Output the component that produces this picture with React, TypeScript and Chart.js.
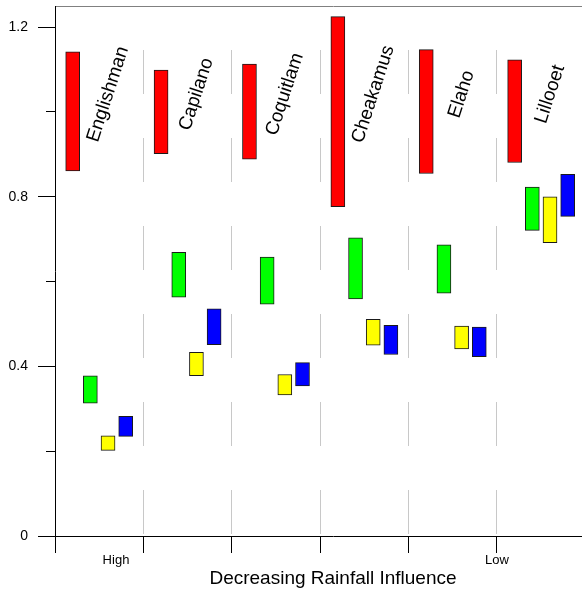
import React, { useEffect, useRef } from 'react';
import { Chart, registerables } from 'chart.js';

Chart.register(...registerables);

// ---- Data ----
const stations = ['Englishman', 'Capilano', 'Coquitlam', 'Cheakamus', 'Elaho', 'Lillooet'];

// floating bar ranges [low, high] per station
const redRange = [[0.861, 1.142], [0.902, 1.099], [0.889, 1.113], [0.777, 1.225], [0.855, 1.147], [0.881, 1.123]];
const greenRange = [[0.313, 0.378], [0.563, 0.669], [0.547, 0.658], [0.559, 0.703], [0.573, 0.687], [0.721, 0.823]];
const yellowRange = [[0.202, 0.236], [0.378, 0.433], [0.333, 0.381], [0.450, 0.511], [0.441, 0.495], [0.692, 0.800]];
const blueRange = [[0.235, 0.282], [0.451, 0.536], [0.354, 0.409], [0.428, 0.497], [0.423, 0.493], [0.754, 0.853]];

const seriesRanges = [redRange, greenRange, yellowRange, blueRange];
const seriesColors = ['#ff0000', '#00ff00', '#ffff00', '#0000ff'];

const yTickValues = [0, 0.2, 0.4, 0.6, 0.8, 1.0, 1.2];
const yTickLabels = ['0', '', '0.4', '', '0.8', '', '1.2'];
const groupBoundaries = [0, 1, 2, 3, 4, 5, 6];
const rangeTickValues = [0.69, 5];
const rangeTickLabels = ['High', 'Low'];

const xTitle = 'Decreasing Rainfall Influence';

// ---- layout constants ----
const X_MAX = 6.29;
const Y_MAX = 1.25;
const SLOT_STEP = 0.2; // bar slot spacing inside a group
const LABEL_SLOT = 0.6;
const LABEL_LEVEL = 1.042;
const FONT = '"Liberation Sans", Arial, Helvetica, sans-serif';

const stationLabelPlugin = {
  id: 'stationLabels',
  afterDatasetsDraw(chart: any) {
    const { ctx, scales } = chart;
    const x = scales.x;
    const y = scales.y;
    ctx.save();
    ctx.font = `19px ${FONT}`;
    ctx.fillStyle = '#000';
    ctx.textAlign = 'center';
    ctx.textBaseline = 'middle';
    stations.forEach((name, i) => {
      const px = x.getPixelForValue(i + LABEL_SLOT);
      const py = y.getPixelForValue(LABEL_LEVEL);
      ctx.save();
      ctx.translate(px, py);
      ctx.rotate((-72 * Math.PI) / 180);
      ctx.fillText(name, 0, 0);
      ctx.restore();
    });
    ctx.restore();
  },
};

const isInt = (v: number) => Math.abs(v - Math.round(v)) < 1e-6;

export default function App() {
  const canvasRef = useRef<HTMLCanvasElement | null>(null);

  useEffect(() => {
    if (!canvasRef.current) return;
    const datasets = seriesRanges.map((ranges, s) => ({
      label: `s${s}`,
      data: ranges.map((r, i) => ({ x: i + SLOT_STEP * (s + 1), y: r })),
      backgroundColor: seriesColors[s],
      borderColor: '#1a1a1a',
      borderWidth: 1,
      borderSkipped: false,
      grouped: false,
      maxBarThickness: 14,
      barPercentage: 1,
      categoryPercentage: 1,
    }));

    const chart = new Chart(canvasRef.current, {
      type: 'bar',
      data: { datasets: datasets as any },
      options: {
        animation: false,
        responsive: false,
        devicePixelRatio: 1,
        layout: { padding: { top: 6, right: 0, bottom: 0, left: 0 } },
        plugins: { legend: { display: false }, tooltip: { enabled: false } },
        scales: {
          x: {
            type: 'linear',
            position: 'bottom',
            min: 0,
            max: X_MAX,
            offset: false,
            afterBuildTicks: (s: any) => {
              const vals = [...groupBoundaries];
              rangeTickValues.forEach((v) => {
                if (!vals.some((g) => Math.abs(g - v) < 1e-6)) vals.push(v);
              });
              vals.sort((a, b) => a - b);
              s.ticks = vals.map((v) => ({ value: v }));
            },
            afterFit: (s: any) => {
              s.height = 56;
              s.paddingLeft = 0;
              s.paddingRight = 0;
            },
            ticks: {
              autoSkip: false,
              maxRotation: 0,
              minRotation: 0,
              padding: 0,
              color: '#000',
              font: { size: 13, family: FONT },
              callback: (v: any) => {
                const idx = rangeTickValues.findIndex((t) => Math.abs(t - Number(v)) < 1e-6);
                return idx >= 0 ? rangeTickLabels[idx] : '';
              },
            },
            grid: {
              offset: false,
              drawOnChartArea: true,
              lineWidth: 1,
              tickLength: 17,
              color: (c: any) =>
                c.tick && isInt(c.tick.value) && c.tick.value > 0 ? '#c8c8c8' : 'rgba(0,0,0,0)',
              tickColor: (c: any) => (c.tick && isInt(c.tick.value) ? '#000' : 'rgba(0,0,0,0)'),
            },
            border: { display: true, color: '#000', width: 1, dash: [44, 44], dashOffset: 44 },
            title: {
              display: true,
              text: xTitle,
              color: '#000',
              font: { size: 19, family: FONT },
              padding: { top: 0, bottom: 2 },
            },
          } as any,
          xTop: {
            type: 'linear',
            position: 'top',
            min: 0,
            max: X_MAX,
            offset: false,
            ticks: { display: false },
            grid: { display: false, drawTicks: false, offset: false },
            border: { display: true, color: '#808080', width: 1 },
            afterFit: (s: any) => {
              s.height = 0;
              s.paddingLeft = 0;
              s.paddingRight = 0;
            },
          } as any,
          y: {
            type: 'linear',
            position: 'left',
            min: 0,
            max: Y_MAX,
            afterBuildTicks: (s: any) => {
              s.ticks = yTickValues.map((v) => ({ value: v }));
            },
            afterFit: (s: any) => {
              s.width = 55;
              s.paddingTop = 0;
              s.paddingBottom = 0;
            },
            ticks: {
              padding: 10,
              color: '#000',
              font: { size: 14, family: FONT },
              callback: (_v: any, i: number) => yTickLabels[i],
            },
            grid: {
              drawOnChartArea: false,
              tickLength: 17,
              tickColor: '#000',
              tickBorderDash: (c: any) => {
                const k = Math.round((c.tick ? c.tick.value : 0) * 10);
                return k % 4 !== 0 ? [0, 8, 9, 100] : [];
              },
            },
            border: { display: true, color: '#000', width: 1 },
          } as any,
        },
      },
      plugins: [stationLabelPlugin],
    });
    return () => chart.destroy();
  }, []);

  return (
    <div
      style={{
        position: 'fixed',
        left: 0,
        top: 0,
        width: 582,
        height: 592,
        overflow: 'hidden',
        background: '#fff',
      }}
    >
      <canvas ref={canvasRef} width={611} height={592} style={{ display: 'block' }} />
    </div>
  );
}
